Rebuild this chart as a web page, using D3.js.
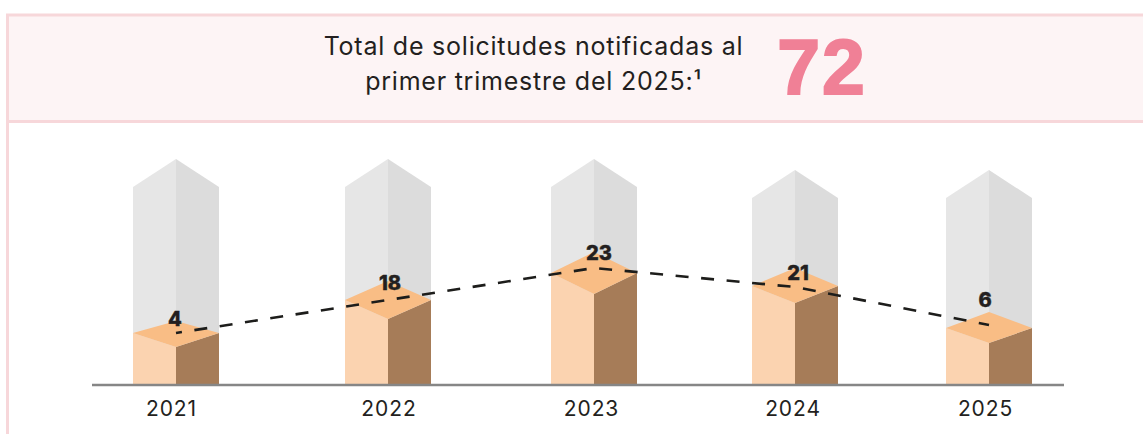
<!DOCTYPE html>
<html>
<head>
<meta charset="utf-8">
<script src="https://cdn.jsdelivr.net/npm/d3@7"></script>
<style>
html,body{margin:0;padding:0;background:#fff;overflow:hidden}
svg{display:block}
text{font-family:"Inter","Roboto",sans-serif;fill:#231f20}
</style>
</head>
<body>
<div id="chart"></div>
<script>
const YEARS = ["2021","2022","2023","2024","2025"];
const VALUES = [4,18,23,21,6];
const BACK_VALUES = [50,50,50,47,47];   // gray column behind each bar
const TOTAL = 72;
const TITLE_LINES = ["Total de solicitudes notificadas al","primer trimestre del 2025:"];
const FOOTNOTE = "¹";

const svgWidth = 1143;
const svgHeight = 434;
const baseY = 384;
const halfW = 43;

const svg = d3.select("#chart").append("svg")
  .attr("width",svgWidth)
  .attr("height",svgHeight);

// Columns are not evenly spaced in the original
const x = d3.scaleOrdinal().domain(YEARS).range([176,388,594,795,989]);
const xAxisScale = d3.scaleOrdinal().domain(YEARS).range([171,388.5,591,792.5,985]);
const xLabel = d3.scaleOrdinal().domain(YEARS).range([175,390,599,798,985]);

// The height is not proportional to the value, so the scales are piecewise
const sorted = [4,6,18,21,23];
const y = d3.scaleLinear().domain([...sorted,47,50]).range([333,328,300,286,273,198,187]);
const lineY = d3.scaleLinear().domain(sorted).range([333,325,300,287,268]);
const labelY = d3.scaleLinear().domain(sorted).range([326,307,290,280,260]);
const depthUp = d3.scaleLinear().domain(sorted).range([12,16,19,18,21]);
const depthDown = d3.scaleLinear().domain(sorted).range([14,15,19,17,21]);

const data = YEARS.map((year,i)=>({year,value:VALUES[i],back:BACK_VALUES[i]}));
const poly = pts => pts.map(p=>p.join(",")).join(" ");

// Header band
svg.append("rect")
  .attr("x",7.5).attr("y",15)
  .attr("width",svgWidth).attr("height",106.5)
  .attr("fill","#fdf4f5")
  .attr("stroke","#f7d7da")
  .attr("stroke-width",3);

svg.append("line")
  .attr("x1",7.5).attr("x2",7.5)
  .attr("y1",121).attr("y2",svgHeight)
  .attr("stroke","#f7d7da")
  .attr("stroke-width",3);

const title = svg.append("text")
  .attr("text-anchor","middle")
  .attr("font-size",25)
  .attr("letter-spacing",0.77);

title.append("tspan").attr("x",533.5).attr("y",55).text(TITLE_LINES[0]);
title.append("tspan").attr("x",533.5).attr("y",90).text(TITLE_LINES[1]+FOOTNOTE);

svg.append("text")
  .attr("x",822).attr("y",94)
  .attr("text-anchor","middle")
  .attr("font-size",77)
  .attr("font-weight",700)
  .attr("letter-spacing",2)
  .style("font-family","'Liberation Sans'")
  .style("fill","#f08096")
  .style("stroke","#f08096")
  .style("stroke-width",2)
  .text(TOTAL);

// Gray back columns
const back = svg.selectAll(".back").data(data).enter().append("g").attr("class","back");

back.append("polygon")
  .attr("fill","#e6e6e6")
  .attr("points",d=>{
    const c=x(d.year), t=y(d.back);
    return poly([[c-halfW,baseY],[c-halfW,t],[c,t-28],[c,baseY]]);
  });

back.append("polygon")
  .attr("fill","#dcdcdc")
  .attr("points",d=>{
    const c=x(d.year), t=y(d.back);
    return poly([[c,baseY],[c,t-28],[c+halfW,t],[c+halfW,baseY]]);
  });

// Orange columns
const bars = svg.selectAll(".bar").data(data).enter().append("g").attr("class","bar");

bars.append("polygon")
  .attr("fill","#fbd3b0")
  .attr("points",d=>{
    const c=x(d.year), t=y(d.value);
    return poly([[c-halfW,baseY],[c-halfW,t],[c,t+depthDown(d.value)],[c,baseY]]);
  });

bars.append("polygon")
  .attr("fill","#a67c58")
  .attr("points",d=>{
    const c=x(d.year), t=y(d.value);
    return poly([[c,baseY],[c,t+depthDown(d.value)],[c+halfW,t],[c+halfW,baseY]]);
  });

bars.append("polygon")
  .attr("fill","#f9bd85")
  .attr("points",d=>{
    const c=x(d.year), t=y(d.value);
    return poly([[c-halfW,t],[c,t-depthUp(d.value)],[c+halfW,t],[c,t+depthDown(d.value)]]);
  });

// Baseline
svg.append("line")
  .attr("x1",92).attr("x2",1064)
  .attr("y1",baseY+1).attr("y2",baseY+1)
  .attr("stroke","#868686")
  .attr("stroke-width",2.5);

// Year labels
const axis = svg.append("g")
  .attr("transform",`translate(0,${baseY})`)
  .call(d3.axisBottom(xAxisScale).tickSize(0).tickPadding(17));

axis.select(".domain").remove();
axis.selectAll("text")
  .attr("font-size",21)
  .attr("letter-spacing",0.9)
  .style("font-family","Inter")
  .style("fill","#231f20");

// Dashed trend
svg.append("path")
  .datum(data)
  .attr("fill","none")
  .attr("stroke","#1d1d1b")
  .attr("stroke-width",2.6)
  .attr("stroke-dasharray","13 12.6")
  .attr("stroke-dashoffset",7)
  .attr("d",d3.line().x(d=>x(d.year)).y(d=>lineY(d.value)));

// Value labels
svg.selectAll(".val").data(data).enter().append("text")
  .attr("class","val")
  .attr("x",d=>xLabel(d.year))
  .attr("y",d=>labelY(d.value))
  .attr("text-anchor","middle")
  .attr("font-size",20)
  .attr("font-weight",800)
  .style("stroke","#231f20")
  .style("stroke-width",0.4)
  .text(d=>d.value);
</script>
</body>
</html>
